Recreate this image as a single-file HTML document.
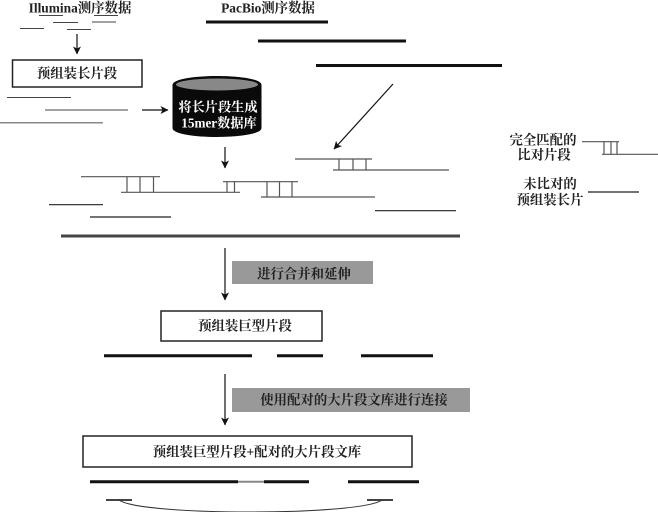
<!DOCTYPE html>
<html><head><meta charset="utf-8"><style>
html,body{margin:0;padding:0;background:#fff}
svg{display:block;filter:blur(.35px)}
text{font-family:"Liberation Serif","Noto Serif CJK SC",serif;font-size:13.4px;fill:#222;text-anchor:middle;dominant-baseline:central;font-weight:bold}
</style></head><body>
<svg width="658" height="512" viewBox="0 0 658 512" xmlns="http://www.w3.org/2000/svg">
<defs><marker id="a" markerUnits="userSpaceOnUse" markerWidth="8" markerHeight="10" refX="7.5" refY="4" orient="auto"><path d="M0 0L8 4L0 8L2 4Z" fill="#111"/></marker></defs>
<rect width="658" height="512" fill="#fff"/>
<text x="80" y="8">Illumina测序数据</text>
<text x="268" y="8">PacBio测序数据</text>
<g stroke="#444" stroke-width="1" fill="none">
<path d="M39 15.5H63M94 15.5H118M53 22.5H78M92 22H116M20 28.5H44M67 29.5H91"/>
<path d="M7 97.5H71M45 110H128"/>
<path d="M0 122.7H103" stroke="#888" stroke-width="1.5"/>
</g>
<path d="M206 22H328M258 41H406M316 65.5H502" stroke="#111" stroke-width="3" fill="none"/>
<rect x="12.5" y="60" width="129.5" height="27" fill="#fff" stroke="#222" stroke-width="1.5"/>
<text x="77" y="73.5">预组装长片段</text>
<g stroke="#111" stroke-width="1.2" fill="none">
<path d="M77 34V54" marker-end="url(#a)"/>
<path d="M142 110H168" marker-end="url(#a)"/>
<path d="M393 84L334 149" marker-end="url(#a)"/>
<path d="M225 147V168" marker-end="url(#a)"/>
<path d="M225 248V300" marker-end="url(#a)"/>
<path d="M225 374V425" marker-end="url(#a)"/>
</g>
<path d="M172.500 85C172.500 73 261.500 73 261.500 85V128C261.500 140 172.500 140 172.500 128Z" fill="#0a0a0a"/>
<ellipse cx="217" cy="84.500" rx="41" ry="6" fill="#888"/>
<text x="218" y="107" style="fill:#fff;font-size:13.2px">将长片段生成</text>
<text x="219" y="123" style="fill:#fff;font-size:13.2px">15mer数据库</text>
<g stroke="#555" stroke-width="1.2" fill="none">
<path d="M295 159H372M333 170H449M339 159V170M353 159V170M366 159V170"/>
<path d="M81 176.7H160M121 192.3H240M127 176.7V192.3M140 176.7V192.3M153.5 176.7V192.3M227 181.7V192.3M234.5 181.7V192.3"/>
<path d="M223 181.7H298M261 197H375M267 181.7V197M279.5 181.7V197M292 181.7V197"/>
<path d="M582 141.7H619M602 154.3H658M604 141.7V154.3M611 141.7V154.3M617 141.7V154.3"/>
</g>
<path d="M49 204.7H103M90 217H171M375 210.7H456M588 192H639" stroke="#222" stroke-width="1.2" fill="none"/>
<path d="M61 236H460" stroke="#444" stroke-width="3" fill="none"/>
<text x="543" y="140">完全匹配的</text>
<text x="544" y="155">比对片段</text>
<text x="550" y="184">未比对的</text>
<text x="550" y="200">预组装长片</text>
<rect x="232" y="261" width="141" height="23" fill="#999"/>
<text x="304" y="274">进行合并和延伸</text>
<rect x="161" y="311" width="161" height="30" fill="#fff" stroke="#222" stroke-width="1.5"/>
<text x="245" y="326">预组装巨型片段</text>
<path d="M104 355.7H252M277 355.7H323M361 355.7H433" stroke="#111" stroke-width="3" fill="none"/>
<rect x="232" y="388" width="238" height="24" fill="#999"/>
<text x="354" y="400">使用配对的大片段文库进行连接</text>
<rect x="83" y="436" width="329" height="31" fill="#fff" stroke="#222" stroke-width="1.5"/>
<text x="257" y="452">预组装巨型片段+配对的大片段文库</text>
<path d="M90 481.7H238M264 481.7H309M348 481.7H419" stroke="#111" stroke-width="3" fill="none"/>
<path d="M238 481.7H264" stroke="#888" stroke-width="2" fill="none"/>
<path d="M106 500H132M367 500H393" stroke="#444" stroke-width="2" fill="none"/>
<path d="M119 500C140 516 360 516 382 500" stroke="#333" stroke-width="1" fill="none"/>
</svg>
</body></html>
